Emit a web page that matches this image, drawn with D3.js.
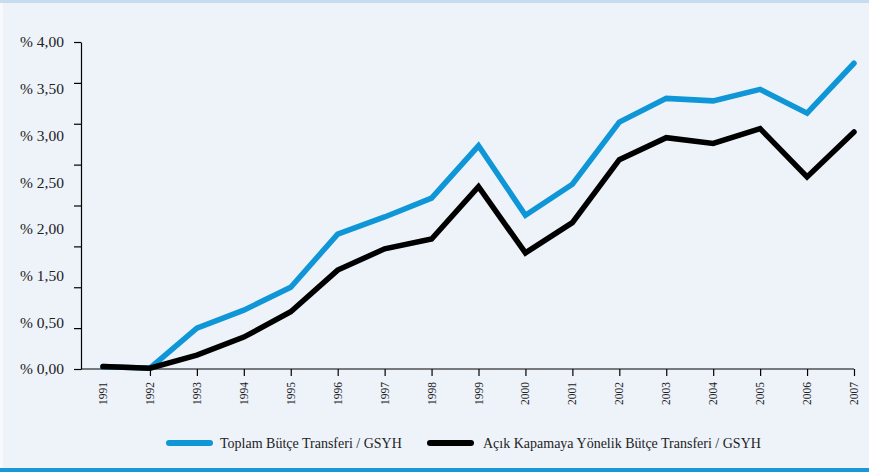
<!DOCTYPE html>
<html>
<head>
<meta charset="utf-8">
<script src="https://cdn.jsdelivr.net/npm/d3@7/dist/d3.min.js"></script>
<style>
  html, body { margin: 0; padding: 0; background: #eef3fa; }
  svg { display: block; }
</style>
</head>
<body>
<script>
// Bütçe transferlerinin GSYH'ye oranı, 1991–2007
const years = [1991, 1992, 1993, 1994, 1995, 1996, 1997, 1998, 1999, 2000, 2001, 2002, 2003, 2004, 2005, 2006, 2007];
const toplam = [0.03, 0.01, 0.50, 0.72, 1.00, 1.65, 1.86, 2.09, 2.73, 1.88, 2.26, 3.02, 3.31, 3.28, 3.42, 3.13, 3.74];
const acikKapama = [0.03, 0.01, 0.17, 0.39, 0.70, 1.21, 1.47, 1.59, 2.23, 1.42, 1.79, 2.56, 2.83, 2.76, 2.94, 2.35, 2.90];
const yTicks = [0, 0.5, 1, 1.5, 2, 2.5, 3, 3.5, 4];
const yLabels = ["% 4,00", "% 3,50", "% 3,00", "% 2,50", "% 2,00", "% 1,50", "% 0,50", "% 0,00"];
const seriesNames = ["Toplam Bütçe Transferi / GSYH", "Açık Kapamaya Yönelik Bütçe Transferi / GSYH"];

const W = 869, H = 472;
const BLUE = "#0f96d7", BLACK = "#000000";
const FONT = "'Liberation Serif', 'DejaVu Serif', serif";

const svg = d3.select("body").append("svg").attr("width", W).attr("height", H);

// panel background, top band, bottom rule
svg.append("rect").attr("x", 0).attr("y", 0).attr("width", W).attr("height", H).attr("fill", "#eef3fa");
svg.append("rect").attr("x", 0).attr("y", 0).attr("width", 3).attr("height", H).attr("fill", "#f7f9fd");
svg.append("rect").attr("x", 0).attr("y", 0).attr("width", W).attr("height", 3).attr("fill", "#c6dcf1");
svg.append("rect").attr("x", 0).attr("y", 468).attr("width", W).attr("height", 4).attr("fill", "#1a97d8");

const x = d3.scaleLinear().domain([1991, 2007]).range([103, 854]);
const y = d3.scaleLinear().domain([0, 4]).range([369, 42]);
const axisLeftX = 81;

// Y axis: tick marks on the value scale
const yAxis = svg.append("g").attr("transform", `translate(${axisLeftX},0)`)
  .call(d3.axisLeft(y).tickValues(yTicks).tickSize(7).tickSizeOuter(0).tickFormat(""));
yAxis.select(".domain").attr("stroke", "#000").attr("stroke-width", 1.2);
yAxis.selectAll(".tick line").attr("stroke", "#000").attr("stroke-width", 1.2);

// Y labels are set evenly down the axis
const yLab = d3.scalePoint().domain(yLabels).range([42, 369]);
svg.append("g").selectAll("text").data(yLabels).join("text")
  .attr("x", 64).attr("y", d => yLab(d)).attr("dy", "0.35em")
  .attr("text-anchor", "end")
  .attr("font-family", FONT).attr("font-size", 15.5).attr("fill", "#222")
  .text(d => d);

// X axis
svg.append("line").attr("x1", axisLeftX).attr("x2", x(2007)).attr("y1", y(0)).attr("y2", y(0))
  .attr("stroke", "#000").attr("stroke-width", 1.2);
const xAxis = svg.append("g").attr("transform", `translate(0,${y(0)})`)
  .call(d3.axisBottom(x).tickValues(years.slice(1)).tickSize(7).tickSizeOuter(0).tickFormat(""));
xAxis.select(".domain").remove();
xAxis.selectAll(".tick line").attr("stroke", "#000").attr("stroke-width", 1.2);

svg.append("g").selectAll("text").data(years).join("text")
  .attr("transform", d => `translate(${x(d)},382) rotate(-90)`)
  .attr("text-anchor", "end").attr("dy", "0.35em")
  .attr("font-family", FONT).attr("font-size", 11.5).attr("fill", "#222")
  .text(d => d);

// Lines
const line = d3.line().x((d, i) => x(years[i])).y(d => y(d));
svg.append("path").datum(toplam).attr("d", line)
  .attr("fill", "none").attr("stroke", BLUE).attr("stroke-width", 5.5)
  .attr("stroke-linejoin", "miter").attr("stroke-linecap", "round");
svg.append("path").datum(acikKapama).attr("d", line)
  .attr("fill", "none").attr("stroke", BLACK).attr("stroke-width", 5.5)
  .attr("stroke-linejoin", "miter").attr("stroke-linecap", "round");

// Legend
const legend = [
  { name: seriesNames[0], color: BLUE, x0: 169, tx: 220 },
  { name: seriesNames[1], color: BLACK, x0: 430, tx: 483 }
];
const lg = svg.append("g").selectAll("g").data(legend).join("g");
lg.append("line").attr("x1", d => d.x0).attr("x2", d => d.x0 + 41).attr("y1", 443).attr("y2", 443)
  .attr("stroke", d => d.color).attr("stroke-width", 6).attr("stroke-linecap", "round");
lg.append("text").attr("x", d => d.tx).attr("y", 443).attr("dy", "0.35em")
  .attr("font-family", FONT).attr("font-size", 14).attr("fill", "#222")
  .text(d => d.name);
</script>
</body>
</html>
